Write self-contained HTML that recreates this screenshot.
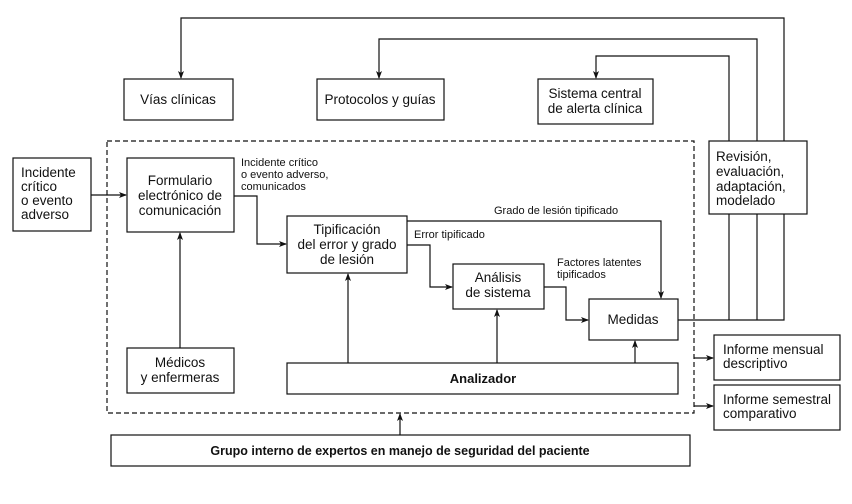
<!DOCTYPE html>
<html><head><meta charset="utf-8"><style>
body{margin:0;background:#fff}
svg{display:block}
text{font-family:"Liberation Sans",sans-serif;fill:#111}
.b{font-size:13.5px}
.s{font-size:11px}
</style></head><body>
<svg width="852" height="504" viewBox="0 0 852 504" xmlns="http://www.w3.org/2000/svg">
<defs><marker id="a" markerWidth="8" markerHeight="8" refX="7" refY="4" orient="auto" markerUnits="userSpaceOnUse"><path d="M0,1 L8,4 L0,7 L2,4z" fill="#111"/></marker></defs>
<g fill="none" stroke="#111" stroke-width="1.2">
<rect x="107" y="141" width="587" height="272" stroke-dasharray="5,3"/>
<rect x="124" y="79" width="109" height="41"/>
<rect x="317" y="79" width="127" height="41"/>
<rect x="538" y="79" width="115" height="45"/>
<rect x="709" y="141" width="98" height="73"/>
<rect x="13" y="158" width="78" height="73"/>
<rect x="127" y="158" width="107" height="74"/>
<rect x="287" y="216" width="120" height="57"/>
<rect x="453" y="264" width="91" height="45"/>
<rect x="589" y="299" width="89" height="41"/>
<rect x="127" y="348" width="107" height="45"/>
<rect x="287" y="363" width="391" height="31"/>
<rect x="714" y="335" width="126" height="45"/>
<rect x="714" y="385" width="126" height="45"/>
<rect x="111" y="435" width="579" height="31"/>
<polyline points="784,141 784,18 181,18 181,78" marker-end="url(#a)"/>
<polyline points="757,141 757,39 379,39 379,78" marker-end="url(#a)"/>
<polyline points="729,141 729,56 596,56 596,78" marker-end="url(#a)"/>
<polyline points="678,320 784,320 784,214"/>
<line x1="757" y1="320" x2="757" y2="214"/>
<line x1="729" y1="320" x2="729" y2="214"/>
<line x1="91" y1="195" x2="126" y2="195" marker-end="url(#a)"/>
<polyline points="234,196 257,196 257,244 286,244" marker-end="url(#a)"/>
<polyline points="407,221 661,221 661,298" marker-end="url(#a)"/>
<polyline points="407,245 430,245 430,287 452,287" marker-end="url(#a)"/>
<polyline points="544,287 566,287 566,320 588,320" marker-end="url(#a)"/>
<line x1="180" y1="348" x2="180" y2="233" marker-end="url(#a)"/>
<line x1="348" y1="363" x2="348" y2="274" marker-end="url(#a)"/>
<line x1="497" y1="363" x2="497" y2="310" marker-end="url(#a)"/>
<line x1="635" y1="363" x2="635" y2="341" marker-end="url(#a)"/>
<line x1="694" y1="358" x2="713" y2="358" marker-end="url(#a)"/>
<line x1="694" y1="406" x2="713" y2="406" marker-end="url(#a)"/>
<line x1="400" y1="435" x2="400" y2="414" marker-end="url(#a)"/>
</g>
<g class="b">
<text x="178" y="104" text-anchor="middle">Vías clínicas</text>
<text x="380" y="104" text-anchor="middle">Protocolos y guías</text>
<text x="595" y="98" text-anchor="middle">Sistema central</text>
<text x="595" y="113" text-anchor="middle">de alerta clínica</text>
<text x="716" y="161">Revisión,</text>
<text x="716" y="176">evaluación,</text>
<text x="716" y="191">adaptación,</text>
<text x="716" y="205">modelado</text>
<text x="21" y="177">Incidente</text>
<text x="21" y="191">crítico</text>
<text x="21" y="205">o evento</text>
<text x="21" y="219">adverso</text>
<text x="180" y="185" text-anchor="middle">Formulario</text>
<text x="180" y="200" text-anchor="middle">electrónico de</text>
<text x="180" y="215" text-anchor="middle">comunicación</text>
<text x="347" y="234" text-anchor="middle">Tipificación</text>
<text x="347" y="249" text-anchor="middle">del error y grado</text>
<text x="347" y="264" text-anchor="middle">de lesión</text>
<text x="498" y="282" text-anchor="middle">Análisis</text>
<text x="498" y="297" text-anchor="middle">de sistema</text>
<text x="633" y="324" text-anchor="middle">Medidas</text>
<text x="180" y="367" text-anchor="middle">Médicos</text>
<text x="180" y="382" text-anchor="middle">y enfermeras</text>
<text x="483" y="383" text-anchor="middle" font-weight="bold" font-size="13">Analizador</text>
<text x="723" y="354">Informe mensual</text>
<text x="723" y="368">descriptivo</text>
<text x="723" y="404">Informe semestral</text>
<text x="723" y="418">comparativo</text>
<text x="400" y="455" text-anchor="middle" font-weight="bold" font-size="12.5">Grupo interno de expertos en manejo de seguridad del paciente</text>
</g>
<g class="s">
<text x="241" y="166">Incidente crítico</text>
<text x="241" y="178">o evento adverso,</text>
<text x="241" y="190">comunicados</text>
<text x="494" y="214">Grado de lesión tipificado</text>
<text x="414" y="238">Error tipificado</text>
<text x="557" y="266">Factores latentes</text>
<text x="557" y="278">tipificados</text>
</g>
</svg>
</body></html>
